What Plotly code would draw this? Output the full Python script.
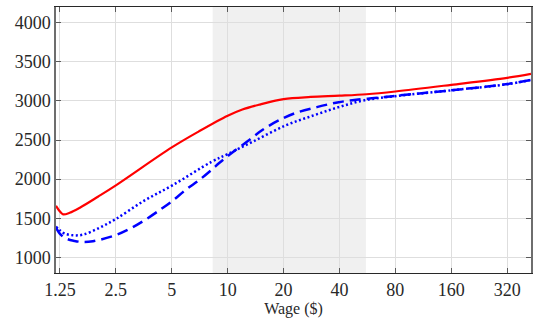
import math
import plotly.graph_objects as go

# ---- data ----
red_wage = [1.19, 1.25, 1.30, 1.41, 1.6, 2.0, 2.5, 5, 7, 10, 12, 14.7, 20, 28, 40, 56, 80, 160, 320, 430]
red_val = [1658, 1585, 1550, 1570, 1635, 1775, 1920, 2405, 2610, 2810, 2890, 2950, 3022, 3050, 3066, 3085, 3120, 3205, 3295, 3345]

dot_wage = [1.19, 1.25, 1.32, 1.47, 1.67, 2.05, 2.5, 3.5, 5.06, 8.2, 10, 13.7, 20.5, 29, 39.6, 54, 80, 160, 320, 430]
dot_val = [1393, 1345, 1305, 1282, 1291, 1381, 1490, 1715, 1923, 2222, 2320, 2480, 2686, 2814, 2920, 3006, 3060, 3135, 3213, 3268]

dash_wage = [1.19, 1.25, 1.35, 1.5, 1.67, 1.88, 2.5, 3, 3.6, 4.4, 5, 6, 7, 8.2, 9, 10.6, 12.9, 14.7, 16, 18.8, 23, 30.2, 39.6, 50.5, 65, 80, 160, 320, 430]
dash_val = [1380, 1300, 1240, 1210, 1195, 1205, 1285, 1370, 1480, 1620, 1715, 1870, 1985, 2120, 2205, 2340, 2490, 2595, 2655, 2750, 2842, 2920, 2983, 3017, 3040, 3065, 3135, 3215, 3268]

x_ticks = [1.25, 2.5, 5, 10, 20, 40, 80, 160, 320]
x_tick_text = ["1.25", "2.5", "5", "10", "20", "40", "80", "160", "320"]
y_ticks = [1000, 1500, 2000, 2500, 3000, 3500, 4000]
shade_lo, shade_hi = 8.3, 55.5
x_range = [1.19, 430]
y_range = [800, 4200]

fig = go.Figure()
fig.add_shape(type="rect", xref="x", yref="paper", x0=shade_lo, x1=shade_hi, y0=0, y1=1,
              fillcolor="rgb(240,240,240)", line=dict(width=0), layer="below")

fig.add_trace(go.Scatter(x=red_wage, y=red_val, mode="lines",
                         line=dict(color="rgb(255,0,0)", width=2.2, shape="spline", smoothing=1.0)))
fig.add_trace(go.Scatter(x=dot_wage, y=dot_val, mode="lines",
                         line=dict(color="rgb(0,0,255)", width=2.5, dash="2px,2.5px", shape="spline", smoothing=1.0)))
fig.add_trace(go.Scatter(x=dash_wage, y=dash_val, mode="lines",
                         line=dict(color="rgb(0,0,255)", width=2.5, dash="11px,6px", shape="spline", smoothing=1.0)))

font_family = "'Liberation Serif', 'Times New Roman', Times, serif"
fig.update_layout(
    width=533, height=322,
    margin=dict(l=56, r=0, t=7, b=49),
    plot_bgcolor="white", paper_bgcolor="white",
    showlegend=False,
    font=dict(family=font_family, color="rgb(40,40,40)", size=18),
)
fig.update_xaxes(type="log", range=[math.log10(x_range[0]), math.log10(x_range[1])],
                 tickvals=x_ticks, ticktext=x_tick_text,
                 showgrid=True, gridcolor="rgb(222,222,222)", gridwidth=1,
                 showline=True, linecolor="rgb(40,40,40)", linewidth=1, mirror="ticks",
                 ticks="inside", ticklen=5, tickcolor="rgb(90,90,90)",
                 zeroline=False,
                 title=dict(text="Wage ($)", font=dict(size=16, family=font_family), standoff=2))
fig.update_yaxes(range=y_range, tickvals=y_ticks,
                 showgrid=True, gridcolor="rgb(222,222,222)", gridwidth=1,
                 showline=True, linecolor="rgb(110,110,110)", linewidth=1.5, mirror="ticks",
                 ticks="inside", ticklen=5, tickcolor="rgb(90,90,90)",
                 zeroline=False)

fig.write_html("out.html")
